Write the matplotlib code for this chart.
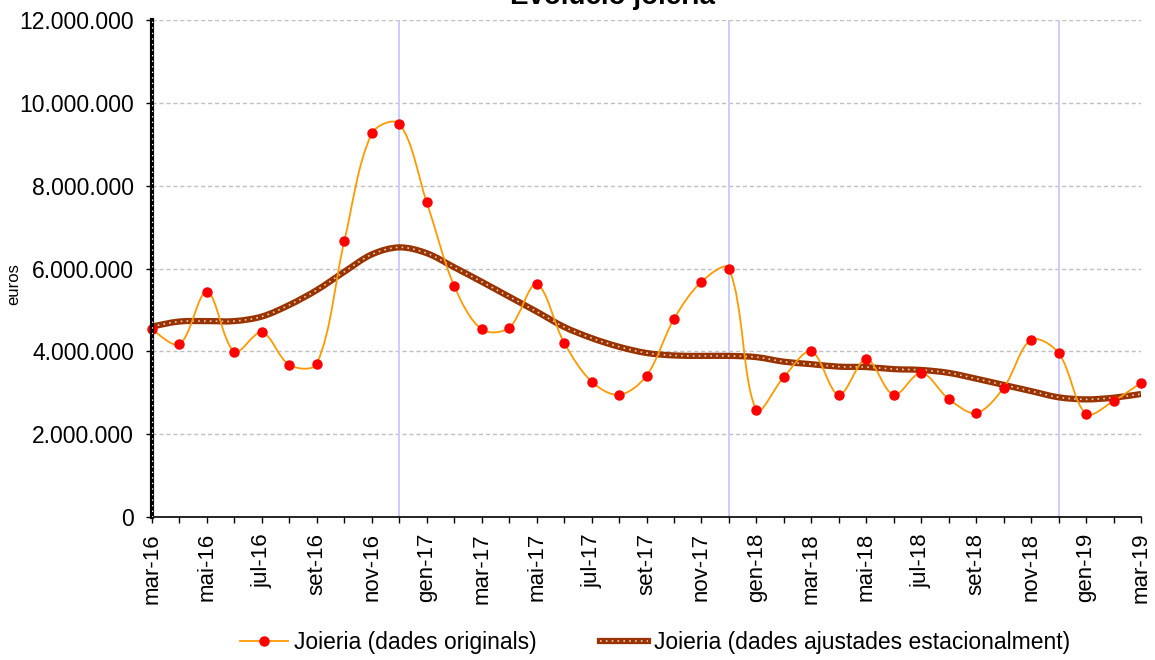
import matplotlib
matplotlib.use("Agg")
import matplotlib.pyplot as plt
from matplotlib.path import Path
from matplotlib.patches import PathPatch
from matplotlib.lines import Line2D

plt.rcParams["font.family"] = ["Liberation Sans", "DejaVu Sans"]

# --- dades (milions d'euros) ---
months = ["mar-16", "abr-16", "mai-16", "jun-16", "jul-16", "ago-16", "set-16", "oct-16",
          "nov-16", "des-16", "gen-17", "feb-17", "mar-17", "abr-17", "mai-17", "jun-17",
          "jul-17", "ago-17", "set-17", "oct-17", "nov-17", "des-17", "gen-18", "feb-18",
          "mar-18", "abr-18", "mai-18", "jun-18", "jul-18", "ago-18", "set-18", "oct-18",
          "nov-18", "des-18", "gen-19", "feb-19", "mar-19"]
originals = [4.53, 4.17, 5.44, 3.99, 4.46, 3.67, 3.70, 6.66, 9.26, 9.50, 7.60, 5.58,
             4.53, 4.57, 5.62, 4.21, 3.27, 2.95, 3.41, 4.78, 5.68, 6.00, 2.58, 3.38,
             4.00, 2.95, 3.81, 2.95, 3.48, 2.85, 2.51, 3.12, 4.28, 3.96, 2.49, 2.80, 3.24]
ajustades = [4.60, 4.72, 4.73, 4.73, 4.84, 5.12, 5.48, 5.92, 6.34, 6.51, 6.37, 6.03,
             5.68, 5.32, 4.96, 4.59, 4.32, 4.11, 3.96, 3.90, 3.89, 3.89, 3.86, 3.75,
             3.69, 3.63, 3.62, 3.57, 3.55, 3.48, 3.34, 3.19, 3.04, 2.89, 2.84, 2.88, 2.97]
year_breaks = ["des-16", "des-17", "des-18"]

x = list(range(len(months)))
y_orig = [v * 1e6 for v in originals]
y_adj = [v * 1e6 for v in ajustades]

# escala aproximada en píxels (per a la longitud de les tangents)
SX, SY = 27.5, 41.4e-6


def smooth_path(xs, ys):
    """Bezier amb tangents ponderades per la longitud dels trams (estil Excel)."""
    n = len(xs)
    d = [((SX * (xs[i + 1] - xs[i])) ** 2 + (SY * (ys[i + 1] - ys[i])) ** 2) ** 0.5
         for i in range(n - 1)]
    verts = [(xs[0], ys[0])]
    codes = [Path.MOVETO]
    for i in range(n - 1):
        a, b = max(i - 1, 0), min(i + 2, n - 1)
        da = d[i - 1] if i > 0 else d[i]
        db = d[i + 1] if i + 1 < n - 1 else d[i]
        k1 = d[i] / (da + d[i]) / 3
        k2 = d[i] / (d[i] + db) / 3
        c1 = (xs[i] + (xs[i + 1] - xs[a]) * k1, ys[i] + (ys[i + 1] - ys[a]) * k1)
        c2 = (xs[i + 1] - (xs[b] - xs[i]) * k2, ys[i + 1] - (ys[b] - ys[i]) * k2)
        verts += [c1, c2, (xs[i + 1], ys[i + 1])]
        codes += [Path.CURVE4] * 3
    return Path(verts, codes)


fig = plt.figure(figsize=(11.55, 6.6), dpi=100)
ax = fig.add_axes([152 / 1155, 1 - 517 / 660, 989 / 1155, 497 / 660])

# línies verticals de canvi d'any
for m in year_breaks:
    ax.axvline(months.index(m), color="#C8C8FF", lw=1.3, zorder=1)

# sèrie ajustada: gruixuda marró amb puntejat clar
ax.add_patch(PathPatch(smooth_path(x, y_adj), fill=False, edgecolor="#993300",
                       lw=4.5, zorder=3, capstyle="butt"))
ax.add_patch(PathPatch(smooth_path(x, y_adj), fill=False, edgecolor="#E8CFC0",
                       lw=1.2, ls=(0, (1, 2.5)), zorder=4))

# sèrie original: línia taronja suavitzada + punts vermells
ax.add_patch(PathPatch(smooth_path(x, y_orig), fill=False, edgecolor="#FF9900",
                       lw=1.3, zorder=5))
ax.plot(x, y_orig, "o", color="#FF0000", ms=6.5, mec="#FF0000", zorder=6, clip_on=False)

ax.set_xlim(0, len(months) - 1)
ax.set_ylim(0, 12e6)

yt = [i * 2e6 for i in range(7)]
ax.set_yticks(yt)
ax.set_yticklabels([f"{v:,.0f}".replace(",", ".") for v in yt])
ax.yaxis.grid(True, color="#C0C0C0", ls=(0, (3, 2)), lw=1)
ax.set_axisbelow(True)

ax.set_xticks(x[::2])
ax.set_xticklabels(months[::2], rotation=90)
ax.set_xticks(x[1::2], minor=True)

ax.tick_params(axis="y", length=4, width=1, pad=9, labelsize=16.5, direction="out")
ax.tick_params(axis="x", which="both", length=4.5, width=1, pad=7, labelsize=16,
               direction="out")

for s in ["top", "right"]:
    ax.spines[s].set_visible(False)
ax.spines["bottom"].set_linewidth(1.2)
ax.spines["left"].set_linewidth(3)
ax.spines["left"].set_zorder(7)
ax.axvline(0, color="white", lw=1.0, ls=(0, (1, 3)), zorder=8)

fig.text(612 / 1155, 1 - 3.5 / 660, "Evolució joieria", ha="center", va="baseline",
         fontsize=20, fontweight="bold")
fig.text(14 / 1155, 1 - 284 / 660, "euros", rotation=90, ha="center", va="center",
         fontsize=12)

h1 = Line2D([], [], color="#FF9900", lw=1.3, marker="o", ms=6.5, mfc="#FF0000",
            mec="#FF0000")
h2a = Line2D([], [], color="#993300", lw=4.5)
h2b = Line2D([], [], color="#E8CFC0", lw=1.2, ls=(0, (1, 2.5)))
fig.legend([h1, (h2a, h2b)],
           ["Joieria (dades originals)", "Joieria (dades ajustades estacionalment)"],
           loc="center", bbox_to_anchor=(655 / 1155, 1 - 643 / 660), ncol=2,
           frameon=False, fontsize=16.5, handlelength=2.1, handletextpad=0.25,
           columnspacing=2.75)

fig.savefig("out.png", dpi=100)
